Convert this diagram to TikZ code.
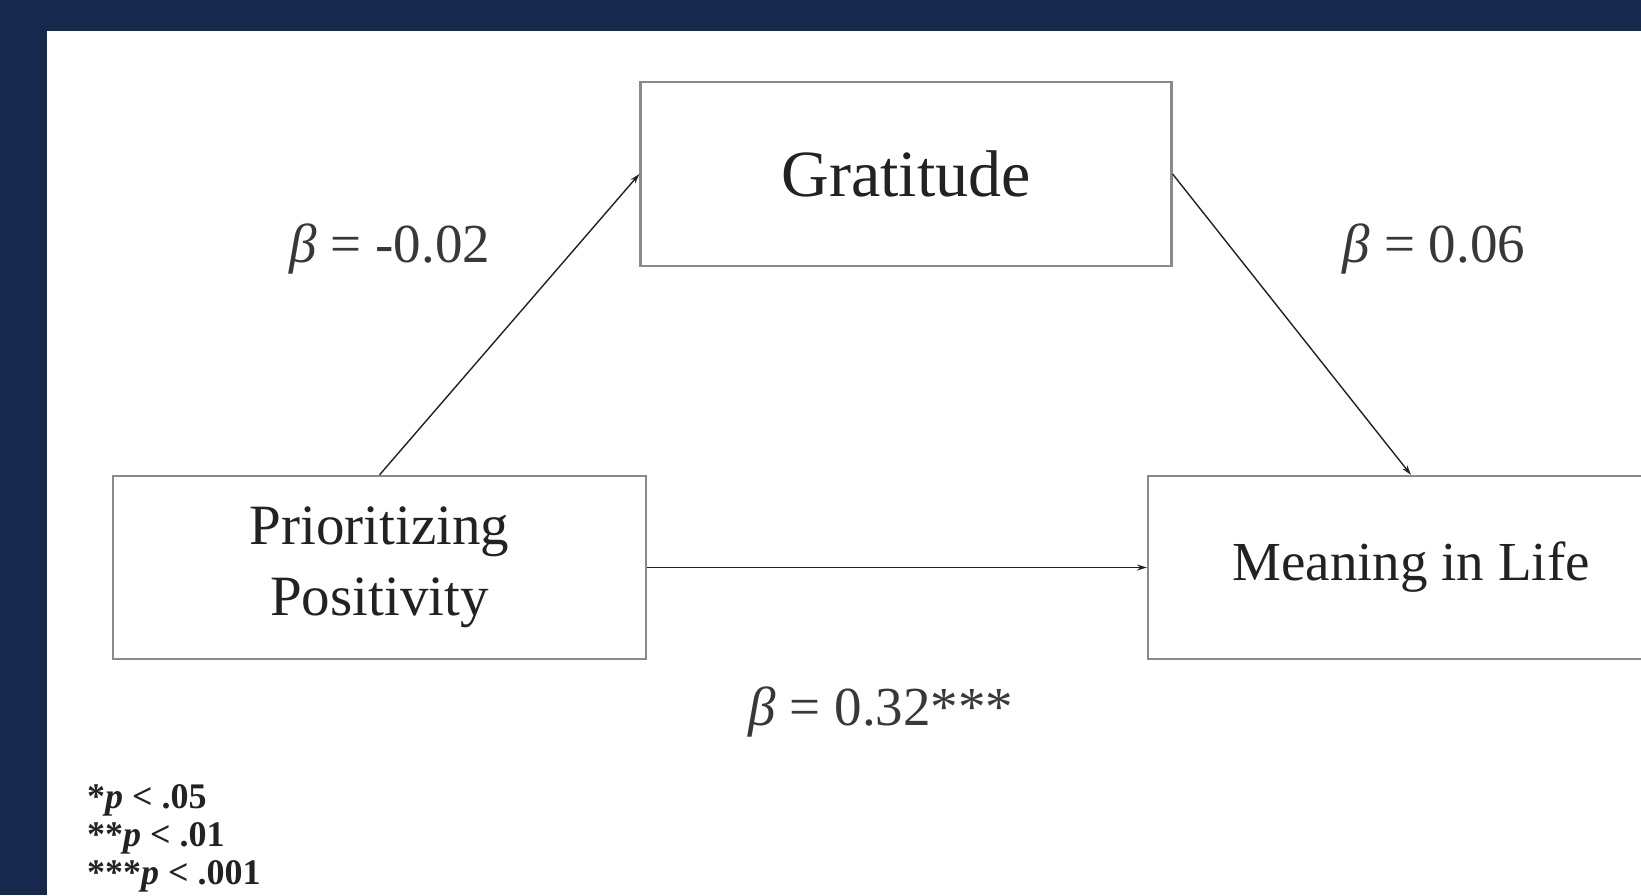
\documentclass[tikz,border=0pt]{standalone}
\usepackage{fontspec}
\setmainfont{Liberation Serif}
\usetikzlibrary{arrows.meta}
\definecolor{navy}{HTML}{16284B}
\definecolor{boxgray}{HTML}{8A8A8A}
\definecolor{ink}{HTML}{222222}
\begin{document}
\begin{tikzpicture}[x=1pt,y=-1pt,
  box/.style={draw=boxgray, line width=2.2pt, fill=white, inner sep=0pt, align=center, text=ink},
  conn/.style={draw=ink, line width=1.4pt, -{Stealth[length=10pt,width=6pt]}},
  lbl/.style={text=ink!90, inner sep=0pt, font=\fontsize{55}{66}\selectfont},
  fn/.style={text=ink, inner sep=0pt, anchor=base west, font=\fontsize{36}{40}\selectfont\bfseries}]
\useasboundingbox (0,0) rectangle (1641,895);
\clip (0,0) rectangle (1641,895);
\fill[navy] (0,0) rectangle (1641,895);
\fill[white] (47,31) rectangle (1641,895);
\node[box, minimum width=531pt, minimum height=184pt, font=\fontsize{66}{79}\selectfont] (grat) at (906,174) {Gratitude};
\node[box, minimum width=533pt, minimum height=183pt, font=\fontsize{57}{71}\selectfont] (prior) at (379.5,567.5) {Prioritizing\\Positivity};
\node[box, minimum width=526pt, minimum height=183pt, font=\fontsize{55}{66}\selectfont] (mean) at (1411,567.5) {Meaning in Life};
\draw[conn] (prior.north) -- (grat.west);
\draw[conn] (grat.east) -- (mean.north);
\draw[conn] (prior.east) -- (mean.west);
\node[lbl] (la) at (390,249) {\textit{β} = -0.02};
\node[lbl] (lb) at (1434,249) {\textit{β} = 0.06};
\node[lbl] (lc) at (881,712) {\textit{β} = 0.32***};
\node[fn] (fn1) at (87,808) {*\textit{p} < .05};
\node[fn] (fn2) at (87,846) {**\textit{p} < .01};
\node[fn] (fn3) at (87,884) {***\textit{p} < .001};
\end{tikzpicture}
\end{document}
